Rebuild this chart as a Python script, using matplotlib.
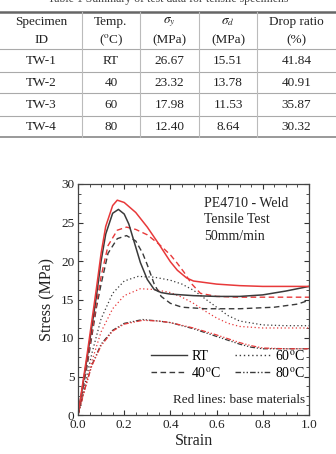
import matplotlib
matplotlib.use("Agg")
import matplotlib.pyplot as plt
from matplotlib.ticker import MultipleLocator
from matplotlib.lines import Line2D

plt.rcParams['font.family'] = ['Liberation Serif', 'DejaVu Serif']
plt.rcParams['mathtext.fontset'] = 'stix'

# ---------------- table data ----------------
caption = "Table 1 Summary of test data for tensile specimens"
col_headers = ["Specimen\nID", "Temp.\n($^{\\rm o}$C)", "$\\sigma_y$\n(MPa)",
               "$\\sigma_d$\n(MPa)", "Drop ratio\n(%)"]
specimen_ids = ["TW-1", "TW-2", "TW-3", "TW-4"]
temps = ["RT", "40", "60", "80"]
sigma_y = ["26.67", "23.32", "17.98", "12.40"]
sigma_d = ["15.51", "13.78", "11.53", "8.64"]
drop_ratio = ["41.84", "40.91", "35.87", "30.32"]

# ---------------- curve data ----------------
rt_weld_x = [0, 0.04, 0.08, 0.10, 0.12, 0.15, 0.175, 0.20, 0.22, 0.24, 0.27, 0.30, 0.33, 0.36, 0.40, 0.50, 0.60, 0.70, 0.80, 0.90, 1.00]
rt_weld_y = [0, 7.5, 15.5, 20.0, 23.5, 26.2, 26.7, 26.1, 24.8, 22.8, 19.8, 17.6, 16.3, 15.9, 15.7, 15.5, 15.4, 15.4, 15.6, 16.1, 16.7]

rt_base_x = [0, 0.04, 0.08, 0.10, 0.12, 0.15, 0.17, 0.20, 0.25, 0.30, 0.35, 0.40, 0.43, 0.47, 0.50, 0.60, 0.70, 0.80, 0.90, 1.00]
rt_base_y = [0, 8.0, 16.5, 21.0, 24.5, 27.2, 27.9, 27.6, 26.3, 24.4, 22.2, 19.9, 18.8, 17.8, 17.4, 17.0, 16.8, 16.7, 16.7, 16.7]

t40_weld_x = [0, 0.04, 0.08, 0.10, 0.13, 0.17, 0.21, 0.25, 0.28, 0.30, 0.33, 0.36, 0.40, 0.45, 0.55, 0.70, 0.85, 0.95, 1.00]
t40_weld_y = [0, 6.5, 14.0, 17.0, 21.0, 22.9, 23.3, 22.6, 21.0, 19.5, 17.0, 15.4, 14.5, 14.0, 13.8, 13.8, 14.0, 14.4, 14.9]

t40_base_x = [0, 0.04, 0.08, 0.10, 0.13, 0.17, 0.21, 0.25, 0.30, 0.35, 0.40, 0.43, 0.46, 0.49, 0.53, 0.60, 0.70, 0.85, 1.00]
t40_base_y = [0, 7.0, 14.5, 18.0, 22.0, 24.0, 24.4, 24.1, 23.4, 22.2, 20.8, 19.7, 18.5, 17.1, 15.8, 15.4, 15.3, 15.3, 15.3]

t60_weld_x = [0, 0.03, 0.06, 0.10, 0.15, 0.20, 0.26, 0.33, 0.40, 0.45, 0.50, 0.55, 0.60, 0.65, 0.70, 0.80, 0.90, 1.00]
t60_weld_y = [0, 4.0, 8.0, 12.5, 15.8, 17.4, 18.0, 17.9, 17.5, 17.0, 16.2, 15.1, 14.0, 12.9, 12.2, 11.7, 11.6, 11.6]

t60_base_x = [0, 0.03, 0.06, 0.10, 0.15, 0.20, 0.27, 0.33, 0.40, 0.45, 0.50, 0.55, 0.60, 0.65, 0.70, 0.80, 0.90, 1.00]
t60_base_y = [0, 3.5, 7.0, 10.8, 13.8, 15.5, 16.4, 16.3, 15.9, 15.3, 14.5, 13.5, 12.6, 11.9, 11.5, 11.3, 11.3, 11.3]

t80_weld_x = [0, 0.03, 0.06, 0.10, 0.15, 0.20, 0.28, 0.35, 0.40, 0.50, 0.60, 0.70, 0.75, 0.80, 0.90, 1.00]
t80_weld_y = [0, 3.5, 6.5, 9.2, 11.0, 11.9, 12.4, 12.2, 12.0, 11.2, 10.2, 9.2, 8.8, 8.6, 8.6, 8.6]

t80_base_x = [0, 0.03, 0.06, 0.10, 0.15, 0.20, 0.28, 0.35, 0.40, 0.50, 0.60, 0.70, 0.75, 0.80, 0.90, 1.00]
t80_base_y = [0, 3.4, 6.4, 9.0, 10.9, 11.8, 12.3, 12.2, 12.0, 11.3, 10.4, 9.4, 9.0, 8.7, 8.6, 8.6]

legend_labels = ["RT", "40$^{\\rm o}$C", "60$^{\\rm o}$C", "80$^{\\rm o}$C"]

W, H = 336, 454
fig = plt.figure(figsize=(W / 100, H / 100), dpi=100)

def fy(py):
    return 1 - py / H

def fx(px):
    return px / W

# ---------------- caption (partially cut off at top, as in the source) ----------------
fig.text(0.5, fy(2), caption, ha='center', va='baseline', fontsize=8.5, color='#444444')

# ---------------- table ----------------
tab = fig.add_axes([0, 0, 1, 1], facecolor='none')
tab.set_xlim(0, W)
tab.set_ylim(H, 0)
tab.axis('off')

col_bounds = [0, 82, 140, 199, 257, 336]
col_centers = [(col_bounds[i] + col_bounds[i + 1]) / 2 for i in range(5)]
row_lines = [49, 72, 93, 116]
row_centers = [61.5, 83, 105, 127]

tab.plot([0, W], [12, 12], color='#666666', lw=1.8)
tab.plot([0, W], [137, 137], color='#888888', lw=1.2)
for yl in row_lines:
    tab.plot([0, W], [yl, yl], color='#aaaaaa', lw=0.8)
for xb in col_bounds[1:-1]:
    tab.plot([xb, xb], [12, 137], color='#bbbbbb', lw=0.8)

for i, h in enumerate(col_headers):
    top, bot = h.split("\n")
    tab.text(col_centers[i], 22.5, top, ha='center', va='center', fontsize=9.5, color='#222222')
    tab.text(col_centers[i], 40, bot, ha='center', va='center', fontsize=9.5, color='#222222')

columns = [specimen_ids, temps, sigma_y, sigma_d, drop_ratio]
for ci, col in enumerate(columns):
    for ri, val in enumerate(col):
        tab.text(col_centers[ci], row_centers[ri], val, ha='center', va='center',
                 fontsize=9.5, color='#222222')

# ---------------- chart ----------------
ax = fig.add_axes([fx(78), fy(415), (309 - 78) / W, (415 - 184) / H])

blk = '#3a3a3a'
red = '#e8393a'
ls_solid = '-'
ls_dash = (0, (4, 2.5))
ls_dot = (0, (1, 2))
ls_dd = (0, (4, 1.5, 1, 1.5, 1, 1.5))

ax.plot(t80_weld_x, t80_weld_y, color=blk, ls=ls_dd, lw=0.9)
ax.plot(t80_base_x, t80_base_y, color=red, ls=ls_dd, lw=0.9)
ax.plot(t60_weld_x, t60_weld_y, color=blk, ls=ls_dot, lw=0.9)
ax.plot(t60_base_x, t60_base_y, color=red, ls=ls_dot, lw=0.9)
ax.plot(t40_weld_x, t40_weld_y, color=blk, ls=ls_dash, lw=1.0)
ax.plot(t40_base_x, t40_base_y, color=red, ls=ls_dash, lw=1.0)
ax.plot(rt_weld_x, rt_weld_y, color=blk, ls=ls_solid, lw=1.1)
ax.plot(rt_base_x, rt_base_y, color=red, ls=ls_solid, lw=1.1)

ax.set_xlim(0, 1.0)
ax.set_ylim(0, 30)
ax.xaxis.set_major_locator(MultipleLocator(0.2))
ax.xaxis.set_minor_locator(MultipleLocator(0.05))
ax.yaxis.set_major_locator(MultipleLocator(5))
ax.yaxis.set_minor_locator(MultipleLocator(1.25))
ax.tick_params(which='both', direction='in', top=True, right=True, colors='#333333',
               labelsize=9.5, labelcolor='#222222')
ax.tick_params(which='major', length=3.5, width=0.8)
ax.tick_params(which='minor', length=2, width=0.6)
ax.tick_params(axis='x', pad=3)
ax.tick_params(axis='y', pad=2.5)
ax.set_xticks([0, 0.2, 0.4, 0.6, 0.8, 1.0])
ax.set_xticklabels(["0.0", "0.2", "0.4", "0.6", "0.8", "1.0"])
for s in ax.spines.values():
    s.set_color('#444444')
    s.set_linewidth(0.9)

ax.set_xlabel("Strain", fontsize=11.5, labelpad=1.5, color='#222222')
ax.set_ylabel("Stress (MPa)", fontsize=11.5, labelpad=4, color='#222222')

ax.text(0.545, 0.945, "PE4710 - Weld\nTensile Test\n50mm/min", transform=ax.transAxes,
        ha='left', va='top', fontsize=10, linespacing=1.35, color='#222222')

handles = [Line2D([], [], color=blk, ls=ls_solid, lw=1.0),
           Line2D([], [], color=blk, ls=ls_dash, lw=1.0),
           Line2D([], [], color=blk, ls=ls_dot, lw=1.0),
           Line2D([], [], color=blk, ls=ls_dd, lw=1.0)]
ax.legend(handles, legend_labels, ncol=2, loc='lower right', bbox_to_anchor=(1.02, 0.115),
          frameon=False, fontsize=10, handlelength=2.6, handletextpad=0.3,
          columnspacing=1.0, labelspacing=0.25, borderaxespad=0.2)
ax.text(0.985, 0.04, "Red lines: base materials", transform=ax.transAxes,
        ha='right', va='bottom', fontsize=9.5, color='#222222')

fig.savefig("out.png", dpi=100)
